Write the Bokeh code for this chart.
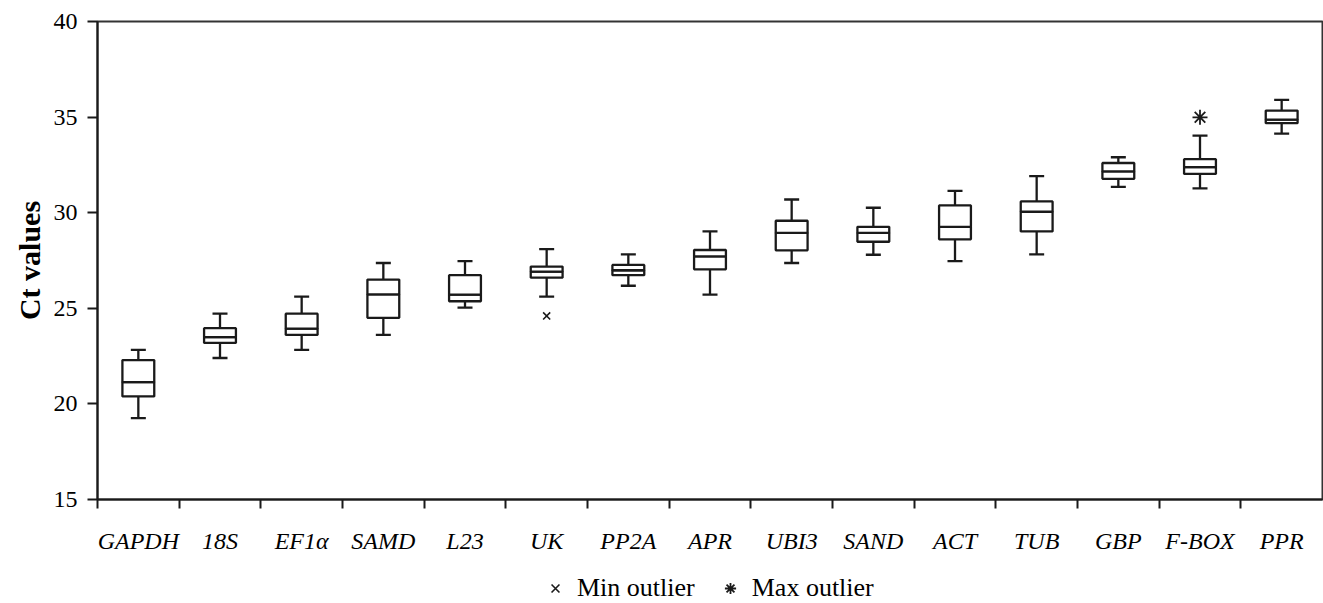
from bokeh.plotting import figure
from bokeh.models import (ColumnDataSource, Whisker, TeeHead, FixedTicker, Range1d,
                          Legend, LegendItem)
from bokeh.layouts import column
from bokeh.embed import file_html
from bokeh.resources import INLINE

# ---------------- data ----------------
genes = ["GAPDH", "18S", "EF1α", "SAMD", "L23", "UK", "PP2A", "APR",
         "UBI3", "SAND", "ACT", "TUB", "GBP", "F-BOX", "PPR"]
whisker_low = [19.26, 22.40, 22.83, 23.61, 25.04, 25.61, 26.18, 25.72,
               27.37, 27.80, 27.47, 27.82, 31.35, 31.27, 34.14]
q1 = [20.39, 23.19, 23.61, 24.50, 25.37, 26.60, 26.73, 27.04,
      28.03, 28.48, 28.61, 29.02, 31.77, 32.03, 34.68]
median = [21.14, 23.49, 23.94, 25.73, 25.72, 26.92, 26.99, 27.72,
          28.94, 28.94, 29.26, 30.05, 32.16, 32.38, 34.87]
q3 = [22.29, 23.96, 24.72, 26.50, 26.73, 27.18, 27.27, 28.05,
      29.58, 29.26, 30.38, 30.59, 32.60, 32.80, 35.34]
whisker_high = [22.83, 24.72, 25.61, 27.37, 27.47, 28.10, 27.82, 29.02,
                30.69, 30.26, 31.14, 31.91, 32.90, 34.03, 35.90]
min_outlier_genes = ["UK"]
min_outlier_values = [24.6]
max_outlier_genes = ["F-BOX"]
max_outlier_values = [34.99]
y_ticks = [15, 20, 25, 30, 35, 40]

# category -> position on a numeric axis (centre of each slot)
pos = {g: i + 0.5 for i, g in enumerate(genes)}
xpos = [pos[g] for g in genes]

src = ColumnDataSource(dict(x=xpos, lo=whisker_low, q1=q1, med=median,
                            q3=q3, hi=whisker_high))

INK = "#1a1a1a"
FONT = "Liberation Serif"
LW = 2.3

p = figure(width=1323, height=556, output_backend="svg", toolbar_location=None,
           x_range=Range1d(0, len(genes)), y_range=Range1d(15, 40),
           min_border_left=97, min_border_right=1, min_border_top=21,
           min_border_bottom=57)
p.grid.visible = False
p.outline_line_color = "#333333"
p.outline_line_width = 2
p.background_fill_color = "white"
p.border_fill_color = "white"

# whiskers (drawn beneath boxes)
wk = Whisker(source=src, base="x", lower="lo", upper="hi",
             line_color=INK, line_width=LW,
             upper_head=TeeHead(size=15, line_color=INK, line_width=LW),
             lower_head=TeeHead(size=15, line_color=INK, line_width=LW))
p.add_layout(wk)

# boxes split at the median
p.vbar(x="x", width=0.39, bottom="q1", top="med", source=src,
       fill_color="white", line_color=INK, line_width=LW)
p.vbar(x="x", width=0.39, bottom="med", top="q3", source=src,
       fill_color="white", line_color=INK, line_width=LW)

# outliers
MIN_STYLE = dict(marker="x", size=10, line_color=INK, line_width=1.6)
MAX_STYLE = dict(marker="asterisk", size=15, line_color=INK, line_width=1.8)
min_x = [pos[g] for g in min_outlier_genes]
max_x = [pos[g] for g in max_outlier_genes]
p.scatter(x=min_x, y=min_outlier_values, **MIN_STYLE)
p.scatter(x=max_x, y=max_outlier_values, **MAX_STYLE)

# ---------------- axes ----------------
yax = p.yaxis[0]
yax.ticker = FixedTicker(ticks=y_ticks)
yax.axis_line_color = INK
yax.axis_line_width = 2
yax.major_tick_line_color = INK
yax.major_tick_line_width = 2
yax.major_tick_out = 10
yax.major_tick_in = 0
yax.minor_tick_line_color = None
yax.major_label_text_font = FONT
yax.major_label_text_font_size = "24px"
yax.major_label_text_color = "black"
yax.major_label_standoff = 10
yax.axis_label = "Ct values"
yax.axis_label_text_font = FONT
yax.axis_label_text_font_style = "bold"
yax.axis_label_text_font_size = "30px"
yax.axis_label_text_color = "black"
yax.axis_label_standoff = 5

xax = p.xaxis[0]
xax.ticker = FixedTicker(ticks=xpos, minor_ticks=list(range(0, len(genes))))
xax.major_label_overrides = {x: g for x, g in zip(xpos, genes)}
xax.axis_line_color = INK
xax.axis_line_width = 2
xax.major_tick_line_color = None
xax.major_tick_out = 0
xax.major_tick_in = 0
xax.minor_tick_line_color = INK
xax.minor_tick_line_width = 2
xax.minor_tick_out = 9
xax.minor_tick_in = 0
xax.major_label_text_font = FONT
xax.major_label_text_font_style = "italic"
xax.major_label_text_font_size = "24px"
xax.major_label_text_color = "black"
xax.major_label_standoff = 19

# ---------------- legend strip ----------------
# same outlier data, plotted out of this strip's view, used only as legend keys
leg = figure(width=1323, height=47, output_backend="svg", toolbar_location=None,
             x_range=Range1d(-2, -1), y_range=Range1d(-2, -1),
             x_axis_type=None, y_axis_type=None,
             min_border_left=0, min_border_right=0, min_border_top=0,
             min_border_bottom=0)
leg.grid.visible = False
leg.outline_line_color = None
leg.background_fill_color = "white"
leg.border_fill_color = "white"
k_min = leg.scatter(x=min_x, y=min_outlier_values, **MIN_STYLE)
k_max = leg.scatter(x=max_x, y=max_outlier_values, **MAX_STYLE)

legend = Legend(items=[LegendItem(label="Min outlier", renderers=[k_min]),
                       LegendItem(label="Max outlier", renderers=[k_max])],
                orientation="horizontal", location=(444, 0),
                border_line_color=None, background_fill_alpha=0,
                label_text_font=FONT, label_text_font_size="26px",
                label_text_color="black",
                glyph_width=28, glyph_height=28, label_standoff=8,
                spacing=21, padding=0, margin=0)
leg.add_layout(legend, "center")

layout = column(p, leg, spacing=0)
open("out.html", "w").write(file_html(layout, INLINE))
